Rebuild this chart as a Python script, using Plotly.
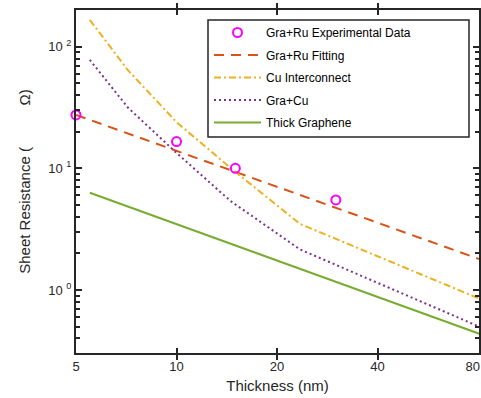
import math
import plotly.graph_objects as go

# ---- data ----
thickness_exp = [5, 10, 15, 30]
rs_exp = [27.5, 16.6, 10.0, 5.5]

thickness_fit = [5, 80.5]
rs_fit = [27.5, 1.80]

thickness_cu = [5.5, 7.16, 10, 14.5, 23.4, 81]
rs_cu = [166, 64, 24, 10.1, 3.5, 0.845]

thickness_gracu = [5.5, 7.16, 10, 14.5, 23.4, 81]
rs_gracu = [78, 31.5, 13.4, 5.4, 2.16, 0.497]

thickness_thick = [5.5, 81]
rs_thick = [6.3, 0.435]

x_ticks = [5, 10, 20, 40, 80]
x_ticktext = ["5", "10", "20", "40", "80\u00a0\u00a0\u00a0"]
y_ticks = [1, 10, 100]
y_ticktext = ["10 <sup>0</sup>", "10 <sup>1</sup>", "10 <sup>2</sup>"]
y_minor = [0.3, 0.4, 0.5, 0.6, 0.7, 0.8, 0.9,
           2, 3, 4, 5, 6, 7, 8, 9,
           20, 30, 40, 50, 60, 70, 80, 90, 200]

FONT = "Liberation Sans, Arial, sans-serif"
AX = "#262626"
Y_RANGE = [-0.518, 2.302]

fig = go.Figure()
fig.add_trace(go.Scatter(x=thickness_fit, y=rs_fit, mode="lines", name="Gra+Ru Fitting",
                         line=dict(color="#D95319", width=2, dash="10px,7px"),
                         legendrank=2, legendgroup="b"))
fig.add_trace(go.Scatter(x=thickness_cu, y=rs_cu, mode="lines", name="Cu Interconnect",
                         line=dict(color="#EDB120", width=2, dash="7px,3px,2px,3px"),
                         legendrank=3, legendgroup="c"))
fig.add_trace(go.Scatter(x=thickness_gracu, y=rs_gracu, mode="lines", name="Gra+Cu",
                         line=dict(color="#7E2F8E", width=2, dash="2px,3px"),
                         legendrank=4, legendgroup="d"))
fig.add_trace(go.Scatter(x=thickness_thick, y=rs_thick, mode="lines", name="Thick Graphene",
                         line=dict(color="#77AC30", width=2),
                         legendrank=5, legendgroup="e"))
fig.add_trace(go.Scatter(x=thickness_exp, y=rs_exp, mode="markers", name="Gra+Ru Experimental Data",
                         marker=dict(symbol="circle-open", size=9, color="#FF00FF",
                                     line=dict(width=2, color="#FF00FF")),
                         cliponaxis=False, legendrank=1, legendgroup="a"))
# helper trace (linear copy of the log axis) that carries the minor ticks
fig.add_trace(go.Scatter(x=[0.7, 0.8], y=[0.0, 0.1], yaxis="y2", mode="lines",
                         line=dict(width=0, color="rgba(0,0,0,0)"),
                         showlegend=False, hoverinfo="skip"))

# legend box
fig.add_shape(type="rect", xref="paper", yref="paper",
              x0=(208 - 76) / 403, x1=(469 - 76) / 403,
              y0=(353 - 137) / 343, y1=(353 - 20) / 343,
              line=dict(color=AX, width=1.5), fillcolor="white", layer="above")

fig.update_layout(
    width=481, height=398,
    margin=dict(l=76, r=2, t=10, b=45, autoexpand=False),
    paper_bgcolor="white", plot_bgcolor="white",
    font=dict(family=FONT, color=AX, size=13),
    showlegend=True,
    legend=dict(x=(209 - 76) / 403, y=(353 - 18) / 343, xanchor="left", yanchor="top",
                bgcolor="rgba(0,0,0,0)", borderwidth=0,
                font=dict(family=FONT, size=12, color="#000000"),
                traceorder="grouped", tracegroupgap=3.5, itemwidth=47),
    xaxis=dict(type="log", range=[0.69897, 1.9058], automargin=False,
               tickvals=x_ticks, ticktext=x_ticktext,
               ticks="inside", ticklen=5, tickwidth=1.5, tickcolor=AX,
               showline=True, linecolor=AX, linewidth=2, mirror="allticks",
               showgrid=False, zeroline=False, ticklabeloverflow="allow",
               tickfont=dict(size=13, color=AX),
               title=dict(text="Thickness (nm)", font=dict(size=15, color=AX), standoff=8)),
    yaxis=dict(type="log", range=Y_RANGE, automargin=False,
               tickvals=y_ticks, ticktext=y_ticktext,
               ticks="inside", ticklen=6, tickwidth=2, tickcolor=AX,
               showline=True, linecolor=AX, linewidth=2, mirror="allticks",
               showgrid=False, zeroline=False,
               tickfont=dict(size=13, color=AX),
               title=dict(text="Sheet Resistance (" + "\u00a0" * 10 + "\u03a9)",
                          font=dict(size=15, color=AX), standoff=14)),
    yaxis2=dict(type="linear", range=Y_RANGE, overlaying="y", side="left", automargin=False,
                tickmode="array", tickvals=[math.log10(v) for v in y_minor],
                showticklabels=False, anchor="x",
                ticks="inside", ticklen=4, tickwidth=1.5, tickcolor=AX,
                showline=True, linecolor=AX, linewidth=2, mirror="allticks",
                showgrid=False, zeroline=False),
)

fig.write_html("out.html")
